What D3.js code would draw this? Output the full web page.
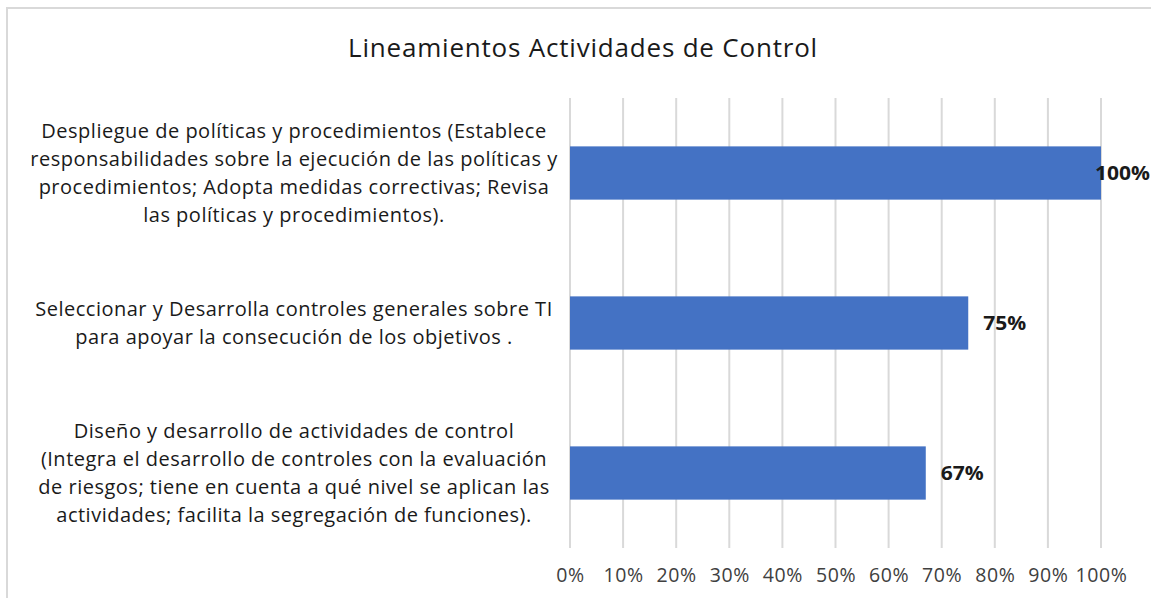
<!DOCTYPE html>
<html><head><meta charset="utf-8">
<script src="https://cdn.jsdelivr.net/npm/d3@7"></script>
<style>body{margin:0;background:#fff}svg{display:block}</style>
</head><body><svg id="c" width="1151" height="598"></svg>
<script>
const title = "Lineamientos Actividades de Control";
const categories = [
  ["Despliegue de políticas y procedimientos (Establece", "responsabilidades sobre la ejecución de las políticas y", "procedimientos; Adopta medidas correctivas; Revisa", "las políticas y procedimientos)."],
  ["Seleccionar y Desarrolla controles generales sobre TI", "para apoyar la consecución de los objetivos ."],
  ["Diseño y desarrollo de actividades de control", "(Integra el desarrollo de controles con la evaluación", "de riesgos; tiene en cuenta a qué nivel se aplican las", "actividades; facilita la segregación de funciones)."]
];
const values = [1.00, 0.75, 0.67];
const ticks = [0,0.1,0.2,0.3,0.4,0.5,0.6,0.7,0.8,0.9,1.0];

const svg = d3.select("#c");
const font = "'Open Sans', sans-serif";
// border
svg.append("path").attr("d","M7,598 V8 H1151").attr("fill","none").attr("stroke","#d9d9d9").attr("stroke-width",2);

svg.append("text").attr("x",583).attr("y",57).attr("text-anchor","middle")
  .attr("font-family",font).attr("font-size",26).attr("letter-spacing",0.8).attr("fill","#1a1a1a").text(title);

const x = d3.scaleLinear().domain([0,1]).range([570,1101]);
const y = d3.scaleBand().domain(d3.range(categories.length)).range([98,548]).paddingInner(0.645).paddingOuter(0.3225);

// gridlines
svg.append("g").selectAll("line").data(ticks).join("line")
  .attr("x1",d=>x(d)).attr("x2",d=>x(d)).attr("y1",98).attr("y2",548)
  .attr("stroke","#d9d9d9").attr("stroke-width",2);

// axis labels
const ax = svg.append("g").attr("transform","translate(0,548)")
  .call(d3.axisBottom(x).tickValues(ticks).tickFormat(d3.format(".0%")).tickSize(0).tickPadding(20));
ax.select(".domain").remove();
ax.selectAll("text").attr("font-family",font).attr("font-size",19.5).attr("letter-spacing",0.6).attr("fill","#404040");

// bars
svg.append("g").selectAll("rect").data(values).join("rect")
  .attr("x",x(0)).attr("y",(d,i)=>y(i)).attr("width",d=>x(d)-x(0)).attr("height",y.bandwidth())
  .attr("fill","#4472c4");

// value labels
svg.append("g").selectAll("text").data(values).join("text")
  .attr("x",d=>Math.min(x(d)+15,1095)).attr("y",(d,i)=>y(i)+y.bandwidth()/2).attr("dy","0.35em")
  .attr("font-family",font).attr("font-size",19.5).attr("font-weight","bold").attr("fill","#1a1a1a")
  .attr("textLength",d=>d>=1?55:43).attr("lengthAdjust","spacingAndGlyphs")
  .text(d=>d3.format(".0%")(d));

// category labels
const lh = 28;
categories.forEach((lines,i)=>{
  const cy = y(i)+y.bandwidth()/2;
  const t = svg.append("text").attr("text-anchor","middle").attr("font-family",font).attr("font-size",20).attr("letter-spacing",0.5).attr("fill","#1a1a1a");
  lines.forEach((l,j)=>{
    t.append("tspan").attr("x",294).attr("y",cy + (j-(lines.length-1)/2)*lh).attr("dy","0.35em").text(l);
  });
});
</script></body></html>
